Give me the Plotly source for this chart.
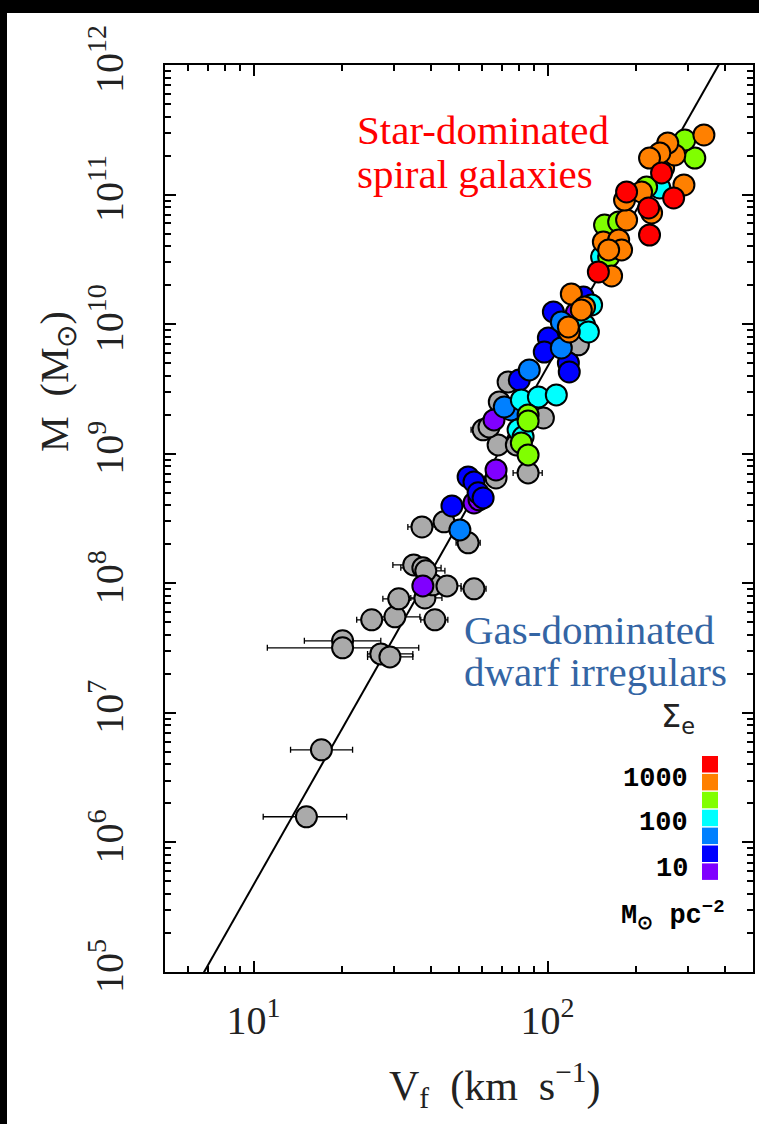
import numpy as np
import plotly.graph_objects as go

# ---------------- data (log10 values) ----------------
# gray: galaxies without surface density; with velocity error ranges (log10 V lo/hi)
gray_logV = [1.180, 1.231, 1.303, 1.303, 1.433, 1.464, 1.402, 1.481, 1.617, 1.494,
             1.583, 1.610, 1.658, 1.750, 1.545, 1.576, 1.586, 1.573, 1.648, 1.730,
             1.825, 1.934, 1.832, 1.781, 1.801, 1.836, 1.866, 1.986, 1.894, 2.105]
gray_logM = [6.198, 6.715, 7.556, 7.502, 7.455, 7.432, 7.718, 7.741, 7.718, 7.880,
             7.887, 7.988, 7.980, 7.957, 8.142, 8.119, 8.096, 8.435, 8.474, 8.312,
             8.813, 8.852, 9.068, 9.184, 9.207, 9.400, 9.554, 9.276, 9.068, 9.840]
gray_logV_lo = [1.033, 1.126, 1.173, 1.047, 1.388, 1.388, 1.351, 1.433, 1.569, 1.440,
                1.535, 1.566, 1.603, 1.706, 1.474, 1.501, 1.535, 1.525, 1.648, 1.689,
                1.825, 1.883, 1.832, 1.740, 1.801, 1.836, 1.866, 1.986, 1.894, 2.105]
gray_logV_hi = [1.317, 1.337, 1.433, 1.562, 1.542, 1.542, 1.453, 1.566, 1.661, 1.552,
                1.641, 1.655, 1.706, 1.791, 1.610, 1.638, 1.651, 1.621, 1.648, 1.771,
                1.825, 1.982, 1.832, 1.815, 1.801, 1.836, 1.866, 1.986, 1.894, 2.105]

violet_logV = [1.576, 1.750, 1.767, 1.825, 1.818, 2.098]
violet_logM = [7.980, 8.620, 8.644, 8.875, 9.261, 10.086]

blue_logV = [1.675, 1.730, 1.750, 1.764, 1.781, 1.904, 2.003, 1.989, 2.071, 2.074, 2.020, 2.122]
blue_logM = [8.597, 8.821, 8.782, 8.698, 8.659, 9.569, 9.894, 9.785, 9.701, 9.631, 10.094, 10.210]

dodger_logV = [1.702, 1.876, 1.853, 1.938, 2.047, 2.047]
dodger_logM = [8.412, 9.338, 9.361, 9.647, 9.816, 10.017]

cyan_logV = [1.911, 1.969, 2.030, 1.900, 1.917, 2.126, 2.139, 2.150, 2.184, 2.382]
cyan_logM = [9.415, 9.438, 9.454, 9.184, 9.130, 9.994, 9.940, 10.148, 10.519, 11.051]

lime_logV = [1.934, 1.934, 1.911, 1.934, 2.208, 2.194, 2.242, 2.337, 2.501, 2.467]
lime_logM = [9.299, 9.253, 9.083, 8.991, 10.519, 10.765, 10.789, 11.059, 11.282, 11.421]

orange_logV = [2.074, 2.071, 2.081, 2.126, 2.115, 2.218, 2.190, 2.242, 2.252, 2.208,
               2.269, 2.262, 2.320, 2.354, 2.395, 2.464, 2.365, 2.433, 2.532, 2.409,
               2.382, 2.347]
orange_logM = [9.940, 9.978, 10.233, 10.133, 10.110, 10.372, 10.634, 10.650, 10.573, 10.573,
               10.804, 10.958, 11.020, 10.858, 11.205, 11.074, 11.282, 11.306, 11.460, 11.398,
               11.321, 11.282]

red_logV = [2.173, 2.269, 2.344, 2.347, 2.388, 2.429]
red_logM = [10.403, 11.020, 10.897, 10.688, 11.167, 10.974]

# BTFR line: M = A * V^4
line_slope = 4.0
line_logA = 1.672
line_V = [5.0, 500.0]

# legend colour key
key_colors = ["#ff0000", "#ff8000", "#80ff00", "#00ffff", "#0080ff", "#0000ff", "#8000ff"]
key_labels = ["1000", "100", "10"]

x_tickvals = [10, 100]
x_ticktext = ["10<sup>1</sup>", "10<sup>2</sup>"]
y_exps = list(range(5, 13))

# ---------------- figure ----------------
W, H = 759, 1124
L, R, T, B = 165, 6, 65, 152
pw, ph = W - L - R, H - T - B

def px(x):
    return (x - L) / pw

def py(y):
    return (H - B - y) / ph

fig = go.Figure()

lv = np.array(line_V)
fig.add_trace(go.Scatter(x=lv, y=10 ** (line_logA + line_slope * np.log10(lv)),
                         mode="lines", line=dict(color="black", width=2),
                         hoverinfo="skip", showlegend=False))

MS = 21
gv = 10 ** np.array(gray_logV)
fig.add_trace(go.Scatter(
    x=gv, y=10 ** np.array(gray_logM), mode="markers",
    error_x=dict(type="data", symmetric=False,
                 array=10 ** np.array(gray_logV_hi) - gv,
                 arrayminus=gv - 10 ** np.array(gray_logV_lo),
                 color="black", thickness=1.3, width=3),
    marker=dict(size=MS, color="#aaaaaa", line=dict(color="black", width=2)),
    showlegend=False))

groups = [
    (violet_logV, violet_logM, "#8000ff"),
    (blue_logV, blue_logM, "#0000ff"),
    (dodger_logV, dodger_logM, "#0080ff"),
    (cyan_logV, cyan_logM, "#00ffff"),
    (lime_logV, lime_logM, "#80ff00"),
    (orange_logV, orange_logM, "#ff8000"),
    (red_logV, red_logM, "#ff0000"),
]
for gx, gy, col in groups:
    fig.add_trace(go.Scatter(
        x=10 ** np.array(gx), y=10 ** np.array(gy), mode="markers",
        marker=dict(size=MS, color=col, line=dict(color="black", width=2)),
        showlegend=False))

# empty trace to activate the mirrored (top/right) tick axes
fig.add_trace(go.Scatter(x=[], y=[], xaxis="x2", yaxis="y2", showlegend=False))

x_minor = [6, 7, 8, 9, 20, 30, 40, 50, 60, 70, 80, 90, 200, 300, 400]
y_minor = [m * 10 ** e for e in range(5, 12) for m in range(2, 10)]
xr = [np.log10(5), np.log10(500)]
yr = [5, 12]

tickfont = dict(family="Liberation Serif", size=40, color="#222")
common = dict(ticks="inside", ticklen=11, tickwidth=2, tickcolor="black",
              showline=True, linewidth=2, linecolor="black",
              showgrid=False, zeroline=False)
xminor = dict(tickvals=x_minor, ticks="inside", ticklen=6, tickwidth=1.5,
              tickcolor="black", showgrid=False)
yminor = dict(tickvals=y_minor, ticks="inside", ticklen=6, tickwidth=1.5,
              tickcolor="black", showgrid=False)

fig.update_layout(
    xaxis=dict(type="log", range=xr, tickvals=x_tickvals, ticktext=x_ticktext,
               tickfont=tickfont, ticklabelstandoff=12, minor=xminor, **common),
    yaxis=dict(type="log", range=yr, tickvals=[10 ** e for e in y_exps],
               ticktext=["10<sup>%d</sup>" % e for e in y_exps],
               tickfont=tickfont, tickangle=-90, ticklabelstandoff=24,
               minor=yminor, **common),
    xaxis2=dict(type="log", range=xr, overlaying="x", side="top", anchor="y2",
                tickvals=x_tickvals, showticklabels=False, minor=xminor, **common),
    yaxis2=dict(type="log", range=yr, overlaying="y", side="right", anchor="x2",
                tickvals=[10 ** e for e in y_exps], showticklabels=False,
                minor=yminor, **common),
)

serif = "Liberation Serif"
mono = "Liberation Mono"
ann = []
ann.append(dict(x=px(57), y=py(382), text="M  (M<sub>⊙</sub>)", textangle=-90,
                font=dict(family=serif, size=40, color="#222")))
ann.append(dict(x=px(494), y=py(1085), text="V<sub>f</sub>  (km  s<sup>−1</sup>)",
                font=dict(family=serif, size=42, color="#222")))
ann.append(dict(x=px(355), y=py(130), text="Star-dominated", xanchor="left",
                font=dict(family=serif, size=41, color="#ff0000")))
ann.append(dict(x=px(355), y=py(174), text="spiral galaxies", xanchor="left",
                font=dict(family=serif, size=41, color="#ff0000")))
ann.append(dict(x=px(462), y=py(630), text="Gas-dominated", xanchor="left",
                font=dict(family=serif, size=41, color="#3465a4")))
ann.append(dict(x=px(462), y=py(672), text="dwarf irregulars", xanchor="left",
                font=dict(family=serif, size=41, color="#3465a4")))
ann.append(dict(x=px(678), y=py(718), text="Σ<sub>e</sub>",
                font=dict(family="DejaVu Sans", size=32, color="#222")))
for lab, yy in zip(key_labels, [779, 823, 869]):
    ann.append(dict(x=px(690), y=py(yy), text=lab, xanchor="right",
                    font=dict(family=mono, size=27, color="black", weight="bold")))
ann.append(dict(x=px(673), y=py(915), text="M<sub>⊙</sub> pc<sup>−2</sup>",
                font=dict(family=mono, size=27, color="black", weight="bold")))
for a in ann:
    a.update(xref="paper", yref="paper", showarrow=False)
    a.setdefault("xanchor", "center")
    a.setdefault("yanchor", "middle")
fig.update_layout(annotations=ann)

shapes = []
top = 756
for i, c in enumerate(key_colors):
    y0 = top + i * 17.9
    shapes.append(dict(type="rect", xref="paper", yref="paper",
                       x0=px(702), x1=px(718), y0=py(y0 + 16.5), y1=py(y0),
                       fillcolor=c, line=dict(width=0)))
# black border of the original scan
for (x0, x1, y0, y1) in [(0, 7, 0, H), (0, W, 0, 13)]:
    shapes.append(dict(type="rect", xref="paper", yref="paper",
                       x0=px(x0), x1=px(x1), y0=py(y1), y1=py(y0),
                       fillcolor="black", line=dict(width=0), layer="above"))
fig.update_layout(shapes=shapes)

fig.update_layout(width=W, height=H, margin=dict(l=L, r=R, t=T, b=B, pad=0),
                  paper_bgcolor="white", plot_bgcolor="white")
fig.write_html("out.html", config={"displayModeBar": False},
               post_script="document.body.style.margin='0';document.body.style.overflow='hidden';")
